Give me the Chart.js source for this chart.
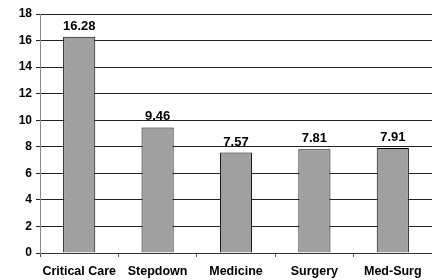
<!DOCTYPE html>
<html>
<head>
<meta charset="utf-8">
<script src="https://cdn.jsdelivr.net/npm/chart.js@4/dist/chart.umd.min.js"></script>
<style>
html,body{margin:0;padding:0;background:#fff;}
#wrap{width:432px;height:280px;}
</style>
</head>
<body>
<div id="wrap"><canvas id="c" width="432" height="280"></canvas></div>
<script>
const categories = ["Critical Care", "Stepdown", "Medicine", "Surgery", "Med-Surg"];
const values = [16.28, 9.46, 7.57, 7.81, 7.91];
const yTicks = [0, 2, 4, 6, 8, 10, 12, 14, 16, 18];

const FONT = "'Liberation Sans', Arial, sans-serif";

const valueLabels = {
  id: 'valueLabels',
  afterDatasetsDraw(chart) {
    const ctx = chart.ctx;
    const meta = chart.getDatasetMeta(0);
    ctx.save();
    ctx.font = "bold 13px " + FONT;
    ctx.fillStyle = '#000';
    ctx.textAlign = 'center';
    ctx.textBaseline = 'bottom';
    meta.data.forEach((bar, i) => {
      ctx.fillText(values[i].toFixed(2), bar.x, bar.y - 4);
    });
    ctx.restore();
  }
};

new Chart(document.getElementById('c'), {
  type: 'bar',
  data: {
    labels: categories,
    datasets: [{
      data: values,
      backgroundColor: '#a0a0a0',
      borderColor: '#000',
      borderWidth: 1,
      barPercentage: 0.41,
      categoryPercentage: 1.0
    }]
  },
  options: {
    responsive: false,
    animation: false,
    layout: { padding: { top: 14, right: 0, left: 0, bottom: 0 } },
    plugins: { legend: { display: false }, tooltip: { enabled: false } },
    scales: {
      x: {
        afterFit(axis) { axis.height = 27; },
        grid: { display: true, drawOnChartArea: false, drawTicks: true, tickLength: 4, color: '#555' },
        border: { display: true, color: '#333', width: 1 },
        ticks: { color: '#000', font: { family: FONT, size: 12.5, weight: 'bold' }, padding: 7, maxRotation: 0, autoSkip: false }
      },
      y: {
        min: 0, max: 18,
        afterFit(axis) { axis.width = 40; },
        afterBuildTicks(axis) { axis.ticks = yTicks.map(v => ({ value: v })); },
        grid: { color: '#222', lineWidth: 1, drawTicks: true, tickLength: 4 },
        border: { display: true, color: '#888', width: 1 },
        ticks: { color: '#000', font: { family: FONT, size: 12, weight: 'bold' }, padding: 4 }
      }
    }
  },
  plugins: [valueLabels]
});
</script>
</body>
</html>
